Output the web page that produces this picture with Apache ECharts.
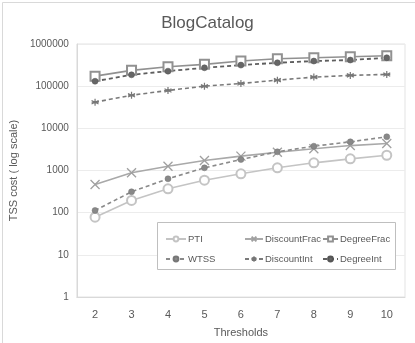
<!DOCTYPE html>
<html>
<head>
<meta charset="utf-8">
<script src="https://cdn.jsdelivr.net/npm/echarts@6/dist/echarts.min.js"></script>
<style>
  html, body { margin: 0; padding: 0; background: #fff; }
  #main { width: 415px; height: 343px; }
</style>
</head>
<body>
<div id="main"></div>
<script>
// thresholds on the x axis
const thresholds = ['2', '3', '4', '5', '6', '7', '8', '9', '10'];
// TSS cost per method
const pti          = [78, 195, 368, 589, 836, 1160, 1520, 1890, 2300];
const discountFrac = [466, 881, 1265, 1725, 2190, 2700, 3270, 3900, 4370];
const degreeFrac   = [173000, 237000, 288000, 329000, 394000, 447000, 472000, 500000, 527000];
const wtss         = [113, 313, 636, 1157, 1820, 2775, 3770, 4790, 6300];
const discountInt  = [41600, 61000, 79000, 100000, 116000, 139000, 164000, 180000, 190000];
const degreeInt    = [131000, 186000, 227000, 273000, 316000, 359000, 394000, 417000, 472000];

const FONT = "'Liberation Sans', sans-serif";
const TXT = '#595959';
const xMark = 'path://M0,0L10,10M10,0L0,10';
const starMark = 'path://M5,0L5,10M0,2.5L10,7.5M10,2.5L0,7.5M0,5L10,5';

function line(name, data, color, opts) {
    return Object.assign({
        name: name,
        type: 'line',
        data: data,
        symbolSize: 8,
        lineStyle: { color: color, width: 1.6 },
        itemStyle: { color: color, borderColor: color, borderWidth: 1.3 }
    }, opts || {});
}

const chart = echarts.init(document.getElementById('main'), null, { renderer: 'canvas' });

function legendCol(left, w, names) {
    return {
        orient: 'vertical', left: left, top: 229, itemGap: 10,
        itemWidth: w, itemHeight: 6, data: names,
        textStyle: { color: TXT, fontSize: 9.5, fontFamily: FONT, padding: [0, 0, 0, -3] },
        selectedMode: false
    };
}

chart.setOption({
    animation: false,
    backgroundColor: '#fff',
    title: {
        text: 'BlogCatalog', left: 'center', top: 10,
        textStyle: { color: TXT, fontSize: 17, fontWeight: 'normal', fontFamily: FONT }
    },
    graphic: [
        { type: 'rect', left: 0, top: 0, silent: true, z: -1,
          shape: { x: 0, y: 0, width: 414, height: 342 },
          style: { fill: 'none', stroke: '#d9d9d9', lineWidth: 1 } },
        { type: 'rect', left: 157, top: 222, z: 2,
          shape: { x: 0, y: 0, width: 238, height: 47 },
          style: { fill: '#fff', stroke: '#bfbfbf', lineWidth: 1 } }
    ],
    legend: [
        legendCol(160, 20, ['PTI', 'WTSS']),
        legendCol(239, 18, ['DiscountFrac', 'DiscountInt']),
        legendCol(317, 15, ['DegreeFrac', 'DegreeInt'])
    ],
    grid: {
        left: 62, right: 10, top: 44, bottom: 45,
        show: true, borderColor: '#e3e3e3', borderWidth: 1
    },
    xAxis: {
        type: 'category', data: thresholds, boundaryGap: true,
        name: 'Thresholds', nameLocation: 'middle', nameGap: 30,
        nameTextStyle: { color: TXT, fontSize: 11, fontFamily: FONT },
        axisLine: { lineStyle: { color: '#d9d9d9' } },
        axisTick: { show: false },
        axisLabel: { color: TXT, fontSize: 11, fontFamily: FONT, margin: 12 }
    },
    yAxis: {
        type: 'log', logBase: 10, min: 1, max: 1000000,
        name: 'TSS cost ( log scale)', nameLocation: 'middle', nameGap: 50,
        nameTextStyle: { color: TXT, fontSize: 11, fontFamily: FONT },
        axisLine: { show: true, lineStyle: { color: '#d9d9d9' } },
        axisTick: { show: false },
        splitLine: { lineStyle: { color: '#ececec' } },
        axisLabel: { color: TXT, fontSize: 10, fontFamily: FONT, margin: 8,
            formatter: v => String(Math.round(v)) }
    },
    series: [
        line('PTI', pti, '#c4c4c4', { symbol: 'emptyCircle', symbolSize: 9 }),
        line('DiscountFrac', discountFrac, '#a9a9a9', {
            symbol: xMark, symbolSize: 9,
            itemStyle: { color: 'none', borderColor: '#a0a0a0', borderWidth: 1.3 } }),
        line('DegreeFrac', degreeFrac, '#919191', { symbol: 'emptyRect', symbolSize: 9 }),
        line('WTSS', wtss, '#8a8a8a', {
            symbol: 'circle', symbolSize: 6,
            lineStyle: { color: '#8a8a8a', width: 1.6, type: [4, 3] },
            itemStyle: { color: '#888', borderColor: '#777', borderWidth: 0.5 } }),
        line('DiscountInt', discountInt, '#7a7a7a', {
            symbol: starMark, symbolSize: 7,
            lineStyle: { color: '#7a7a7a', width: 1.6, type: [4, 3] },
            itemStyle: { color: 'none', borderColor: '#777', borderWidth: 1.2 } }),
        line('DegreeInt', degreeInt, '#5e5e5e', {
            symbol: 'circle', symbolSize: 6,
            lineStyle: { color: '#5e5e5e', width: 1.8, type: [4, 3] },
            itemStyle: { color: '#666', borderColor: '#555', borderWidth: 0.5 } })
    ]
});
</script>
</body>
</html>
